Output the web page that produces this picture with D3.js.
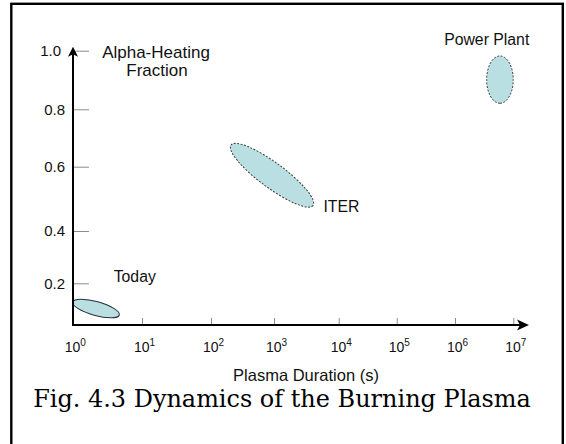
<!DOCTYPE html>
<html>
<head>
<meta charset="utf-8">
<script src="https://cdn.jsdelivr.net/npm/d3@7"></script>
<style>
  html, body { margin: 0; padding: 0; background: #fff; }
  svg { display: block; }
  .sans { font-family: "Liberation Sans", Arial, Helvetica, sans-serif; fill: #111; }
</style>
</head>
<body>
<svg id="chart"></svg>
<script>
// x axis: plasma duration, one tick per decade (10^0 .. 10^7 s)
const xExponents = [0, 1, 2, 3, 4, 5, 6, 7];
// y axis: alpha-heating fraction
const yTickValues = [0.2, 0.4, 0.6, 0.8, 1.0];

// regimes, given as the two ends of each ellipse's long axis (seconds, fraction)
const regimeNames = ['Today', 'ITER', 'Power Plant'];
const regimeStart = [[1, 0.1285], [208, 0.6756], [5.9e6, 0.982]];
const regimeEnd = [[4.7, 0.0788], [4010, 0.4793], [5.9e6, 0.8205]];
// where each regime's name is written (seconds, fraction)
const labelAt = [[3.9, 0.206], [5800, 0.458], [3.5e6, 1.019]];

const width = 566;
const height = 444;

// the original figure's decades / ticks are not evenly spaced, so the
// scales are piecewise: one range stop per tick
const xStops = [72.7, 142, 211, 274, 338.7, 396.7, 455, 513.3];
const yStops = [283.3, 231, 166.7, 109.3, 50.7];
const originX = 73;
const originY = 325;

const regimeStyle = [
    { ry: 7, stroke: '#24323c', dash: null, anchor: 'start' },
    { ry: 12.5, stroke: '#3a3a3a', dash: '2,1.5', anchor: 'start' },
    { ry: 13.3, stroke: '#3a3a3a', dash: '2,1.5', anchor: 'middle' }
];

const svg = d3.select('#chart')
    .attr('width', width)
    .attr('height', height);

const x = d3.scaleLog()
    .domain(xExponents.map(e => Math.pow(10, e)))
    .range(xStops);

const y = d3.scaleLinear()
    .domain(yTickValues)
    .range(yStops);

// frame around the figure (runs off the bottom edge like the scan)
svg.append('rect')
    .attr('x', 11.3)
    .attr('y', 3.8)
    .attr('width', 551.5)
    .attr('height', 470)
    .attr('fill', 'none')
    .attr('stroke', '#000')
    .attr('stroke-width', 2.4);

// regime ellipses
const regions = regimeNames.map((name, i) => {
    const p1 = [x(regimeStart[i][0]), y(regimeStart[i][1])];
    const p2 = [x(regimeEnd[i][0]), y(regimeEnd[i][1])];
    return {
        name,
        cx: (p1[0] + p2[0]) / 2,
        cy: (p1[1] + p2[1]) / 2,
        rx: Math.hypot(p2[0] - p1[0], p2[1] - p1[1]) / 2,
        angle: Math.atan2(p2[1] - p1[1], p2[0] - p1[0]) * 180 / Math.PI,
        style: regimeStyle[i]
    };
});

svg.append('g').attr('class', 'regions')
    .selectAll('ellipse')
    .data(regions)
    .enter().append('ellipse')
    .attr('cx', 0)
    .attr('cy', 0)
    .attr('rx', d => d.rx)
    .attr('ry', d => d.style.ry)
    .attr('transform', d => `translate(${d.cx},${d.cy}) rotate(${d.angle})`)
    .attr('fill', '#b9dfe3')
    .attr('stroke', d => d.style.stroke)
    .attr('stroke-width', 1)
    .attr('stroke-dasharray', d => d.style.dash);

// y axis ticks + labels
const yAxis = svg.append('g')
    .attr('transform', `translate(${originX},0)`)
    .call(d3.axisLeft(y)
        .tickValues(yTickValues)
        .tickSize(-16)
        .tickPadding(8)
        .tickFormat(d3.format('.1f')));
yAxis.select('.domain').remove();
yAxis.selectAll('.tick line').attr('stroke', '#8c8c8c').attr('stroke-width', 1);
yAxis.selectAll('.tick text')
    .attr('fill', '#111')
    .attr('font-size', 15)
    .attr('font-family', '"Liberation Sans", Arial, sans-serif');
// the top label sits a little further left in the scan
yAxis.selectAll('.tick text').filter(d => d === 1).attr('dx', -4);

// x axis ticks + 10^n labels
const xAxis = svg.append('g')
    .attr('transform', `translate(0,${originY})`)
    .call(d3.axisBottom(x)
        .tickValues(xExponents.map(e => Math.pow(10, e)))
        .tickSize(-7)
        .tickPadding(17)
        .tickFormat(() => ''));
xAxis.select('.domain').remove();
xAxis.selectAll('.tick line').attr('stroke', '#8c8c8c').attr('stroke-width', 1);
xAxis.selectAll('.tick text')
    .attr('fill', '#111')
    .attr('font-size', 14)
    .attr('font-family', '"Liberation Sans", Arial, sans-serif')
    .attr('dx', 2)
    .each(function (d) {
        const t = d3.select(this);
        t.append('tspan').text('10');
        t.append('tspan')
            .attr('font-size', 10)
            .attr('dy', '-0.55em')
            .text(Math.round(Math.log10(d)));
    });

// axis lines with arrow heads
const axes = svg.append('g').attr('class', 'axes');
const yTip = 46.7;
const xTip = 529;
axes.append('line')
    .attr('x1', originX).attr('y1', originY + 1)
    .attr('x2', originX).attr('y2', yTip + 6)
    .attr('stroke', '#000').attr('stroke-width', 2);
axes.append('line')
    .attr('x1', originX - 1).attr('y1', originY)
    .attr('x2', xTip - 7).attr('y2', originY)
    .attr('stroke', '#000').attr('stroke-width', 2);
axes.append('path')
    .attr('d', `M${originX},${yTip} L${originX + 5},${yTip + 10} L${originX},${yTip + 7.5} L${originX - 5},${yTip + 10} Z`)
    .attr('fill', '#000');
axes.append('path')
    .attr('d', `M${xTip},${originY} L${xTip - 12},${originY - 5.5} L${xTip - 9},${originY} L${xTip - 12},${originY + 5.5} Z`)
    .attr('fill', '#000');

// axis titles
const yTitle = svg.append('text')
    .attr('class', 'sans')
    .attr('text-anchor', 'middle')
    .attr('font-size', 17);
yTitle.append('tspan').attr('x', 156).attr('y', 57.7).text('Alpha-Heating');
yTitle.append('tspan').attr('x', 157).attr('y', 76).text('Fraction');

svg.append('text')
    .attr('class', 'sans')
    .attr('x', 306)
    .attr('y', 381)
    .attr('text-anchor', 'middle')
    .attr('font-size', 16.5)
    .text('Plasma Duration (s)');

// regime names
svg.append('g').attr('class', 'labels')
    .selectAll('text')
    .data(regions)
    .enter().append('text')
    .attr('class', 'sans')
    .attr('x', (d, i) => x(labelAt[i][0]))
    .attr('y', (d, i) => y(labelAt[i][1]))
    .attr('text-anchor', d => d.style.anchor)
    .attr('font-size', 15.8)
    .text(d => d.name);

// caption, fitted to the width it has in the scan
const caption = svg.append('text')
    .attr('x', 282)
    .attr('y', 407)
    .attr('text-anchor', 'middle')
    .attr('font-family', '"DejaVu Serif", "Liberation Serif", serif')
    .attr('font-size', 24)
    .attr('fill', '#000')
    .text('Fig. 4.3 Dynamics of the Burning Plasma');
const len = caption.node().getComputedTextLength();
if (len > 0) caption.attr('font-size', 24 * 498 / len);
</script>
</body>
</html>
